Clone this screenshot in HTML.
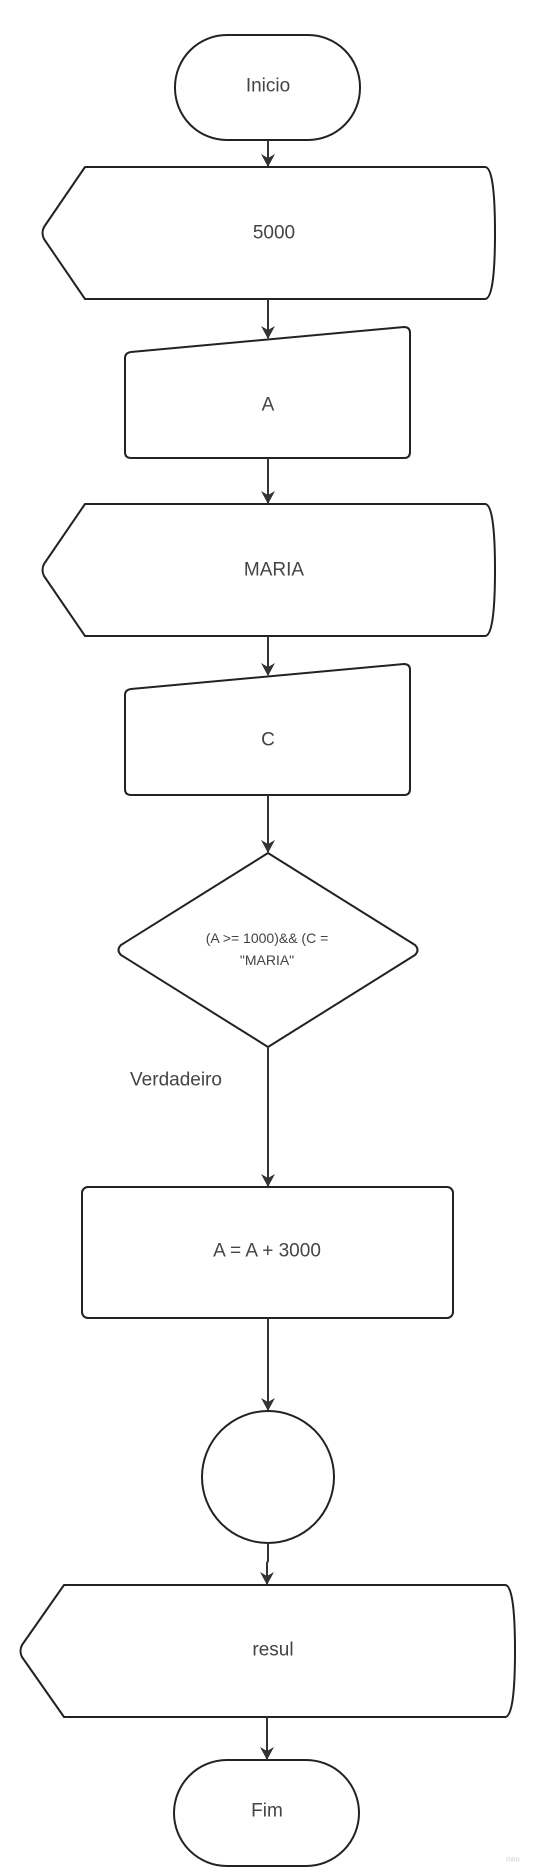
<!DOCTYPE html>
<html><head><meta charset="utf-8"><style>
html,body{margin:0;padding:0;background:#fff;}
svg{display:block}
text{font-family:"Liberation Sans",sans-serif;fill:#444;text-anchor:middle;dominant-baseline:central}
</style></head><body>
<svg width="534" height="1872" viewBox="0 0 534 1872" xmlns="http://www.w3.org/2000/svg">
<defs><marker id="ah" markerWidth="14" markerHeight="14" refX="12" refY="7" orient="auto" markerUnits="userSpaceOnUse">
<path d="M0,0 L13,7 L0,14 L4,7 Z" fill="#333"/></marker></defs>
<g fill="none" stroke="#222" stroke-width="2" stroke-linejoin="round">
<rect x="175" y="35" width="185" height="105" rx="52"/>
<path d="M85,167 L485,167 Q495,167 495,233 Q495,299 485,299 L85,299 L44,239 Q41,233 44,227 Z"/>
<path d="M131,352 L404,327 Q410,327 410,333 L410,452 Q410,458 404,458 L131,458 Q125,458 125,452 L125,358 Q125,353 131,352 Z"/>
<path d="M85,504 L485,504 Q495,504 495,570 Q495,636 485,636 L85,636 L44,576 Q41,570 44,564 Z"/>
<path d="M131,689 L404,664 Q410,664 410,670 L410,789 Q410,795 404,795 L131,795 Q125,795 125,789 L125,695 Q125,690 131,689 Z"/>
<path d="M268,853 L415,945 Q420,950 415,955 L268,1047 L121,955 Q116,950 121,945 Z"/>
<rect x="82" y="1187" width="371" height="131" rx="6"/>
<circle cx="268" cy="1477" r="66"/>
<path d="M64,1585 L505,1585 Q515,1585 515,1651 Q515,1717 505,1717 L64,1717 L22,1657 Q19,1651 22,1645 Z"/>
<rect x="174" y="1760" width="185" height="106" rx="53"/>
</g>
<g stroke="#333" stroke-width="2" fill="none" marker-end="url(#ah)">
<line x1="268" y1="140" x2="268" y2="166"/>
<line x1="268" y1="299" x2="268" y2="338"/>
<line x1="268" y1="458" x2="268" y2="503"/>
<line x1="268" y1="636" x2="268" y2="675"/>
<line x1="268" y1="795" x2="268" y2="852"/>
<line x1="268" y1="1047" x2="268" y2="1186"/>
<line x1="268" y1="1318" x2="268" y2="1410"/>
<path d="M268,1543 L268,1561 L267,1563 L267,1584"/>
<line x1="267" y1="1717" x2="267" y2="1759"/>
</g>
<text x="268" y="86" font-size="19">Inicio</text>
<text x="274" y="233" font-size="19">5000</text>
<text x="268" y="405" font-size="19">A</text>
<text x="274" y="570" font-size="19">MARIA</text>
<text x="268" y="740" font-size="19">C</text>
<text x="267" y="938" font-size="14">(A &gt;= 1000)&amp;&amp; (C =</text>
<text x="267" y="960" font-size="14">"MARIA"</text>
<text x="176" y="1080" font-size="19">Verdadeiro</text>
<text x="267" y="1251" font-size="19">A = A + 3000</text>
<text x="273" y="1650" font-size="19">resul</text>
<text x="267" y="1811" font-size="19">Fim</text>
<text x="513" y="1860" font-size="7" style="fill:#ccc">miro</text>
</svg>
</body></html>
